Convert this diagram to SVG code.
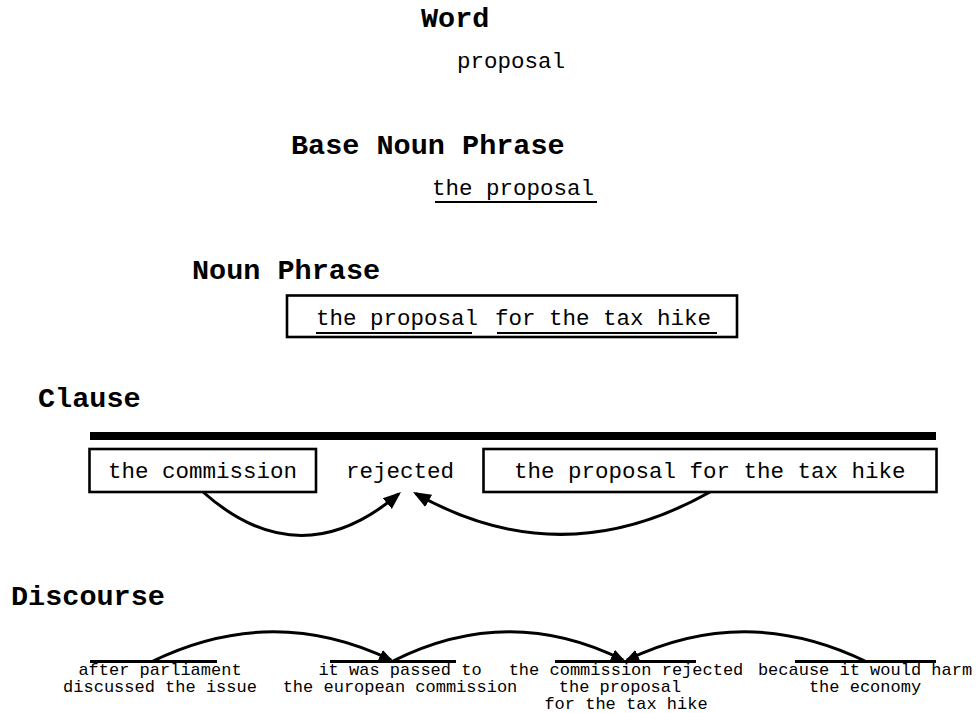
<svg xmlns="http://www.w3.org/2000/svg" width="977" height="713" viewBox="0 0 977 713">
  <style>
    .head { font-family: "Liberation Mono", "Courier New", monospace; font-weight: bold; font-size: 28.5px; fill: #000; }
    .txt { font-family: "Liberation Mono", "Courier New", monospace; font-size: 22.5px; fill: #000; }
    .small { font-family: "Liberation Mono", "Courier New", monospace; font-size: 17px; fill: #000; text-anchor: middle; }
    .box { fill: #fff; stroke: #000; stroke-width: 2.6; }
    .uline { stroke: #000; stroke-width: 1.8; fill: none; }
    .seg { stroke: #000; stroke-width: 3; fill: none; }
    .arc { stroke: #000; stroke-width: 3; fill: none; stroke-linecap: butt; }
  </style>
  <defs>
    <marker id="headBig" markerUnits="userSpaceOnUse" markerWidth="22" markerHeight="18" viewBox="0 -9 22 18" refX="15" refY="0" orient="auto">
      <path d="M0,-7 L18,0 L0,7 z" fill="#000"/>
    </marker>
    <marker id="headSmall" markerUnits="userSpaceOnUse" markerWidth="18" markerHeight="14" viewBox="0 -7 18 14" refX="12" refY="0" orient="auto">
      <path d="M0,-5.5 L14,0 L0,5.5 z" fill="#000"/>
    </marker>
  </defs>

  <rect width="977" height="713" fill="#fff"/>

  <!-- Level headings -->
  <g id="headings">
    <text class="head" x="421" y="27">Word</text>
    <text class="head" x="291" y="154">Base Noun Phrase</text>
    <text class="head" x="192" y="279">Noun Phrase</text>
    <text class="head" x="38" y="407">Clause</text>
    <text class="head" x="11" y="605">Discourse</text>
  </g>

  <!-- Word level -->
  <g id="word">
    <text class="txt" x="457" y="68">proposal</text>
  </g>

  <!-- Base noun phrase level -->
  <g id="base-np">
    <text class="txt" x="432" y="195">the proposal</text>
    <line class="uline" x1="435" y1="202" x2="597" y2="202"/>
  </g>

  <!-- Noun phrase level -->
  <g id="np">
    <rect class="box" x="287" y="295.5" width="450" height="41.5"/>
    <text class="txt" x="316" y="325">the proposal</text>
    <text class="txt" x="495" y="325">for the tax hike</text>
    <line class="uline" x1="316" y1="333" x2="472" y2="333"/>
    <line class="uline" x1="497" y1="333" x2="717" y2="333"/>
  </g>

  <!-- Clause level -->
  <g id="clause-bar">
    <rect x="90" y="432" width="846" height="8" fill="#000"/>
  </g>
  <g id="clause-subject">
    <rect class="box" x="89.5" y="449" width="226.5" height="43"/>
    <text class="txt" x="108" y="478">the commission</text>
  </g>
  <g id="clause-verb">
    <text class="txt" x="346" y="478">rejected</text>
  </g>
  <g id="clause-object">
    <rect class="box" x="483.5" y="449" width="453" height="43"/>
    <text class="txt" x="514" y="478">the proposal for the tax hike</text>
  </g>

  <!-- Discourse level -->
  <g id="disc-1">
    <line class="seg" x1="90" y1="661.5" x2="217" y2="661.5"/>
    <text class="small" x="160" y="674.5">after parliament</text>
    <text class="small" x="160" y="691.5">discussed the issue</text>
  </g>
  <g id="disc-2">
    <line class="seg" x1="330" y1="661.5" x2="456" y2="661.5"/>
    <text class="small" x="400" y="674.5">it was passed to</text>
    <text class="small" x="400" y="691.5">the european commission</text>
  </g>
  <g id="disc-3">
    <line class="seg" x1="555" y1="661.5" x2="696" y2="661.5"/>
    <text class="small" x="626" y="674.5">the commission rejected</text>
    <text class="small" x="620" y="691.5">the proposal</text>
    <text class="small" x="626" y="708.5">for the tax hike</text>
  </g>
  <g id="disc-4">
    <line class="seg" x1="795" y1="661.5" x2="936" y2="661.5"/>
    <text class="small" x="865" y="674.5">because it would harm</text>
    <text class="small" x="865" y="691.5">the economy</text>
  </g>

  <!-- Dependency arcs -->
  <g id="connectors">
    <path class="arc" d="M203,492 Q300,578 398.7,493.9" marker-end="url(#headBig)"/>
    <path class="arc" d="M710,492 Q561,576 415.6,493.5" marker-end="url(#headBig)"/>
    <path class="arc" d="M153,661 Q273,603 391.2,660.1" marker-end="url(#headSmall)"/>
    <path class="arc" d="M393,661 Q509,603 623.2,660.1" marker-end="url(#headSmall)"/>
    <path class="arc" d="M865,661 Q745,603 626.8,660.1" marker-end="url(#headSmall)"/>
  </g>
</svg>
